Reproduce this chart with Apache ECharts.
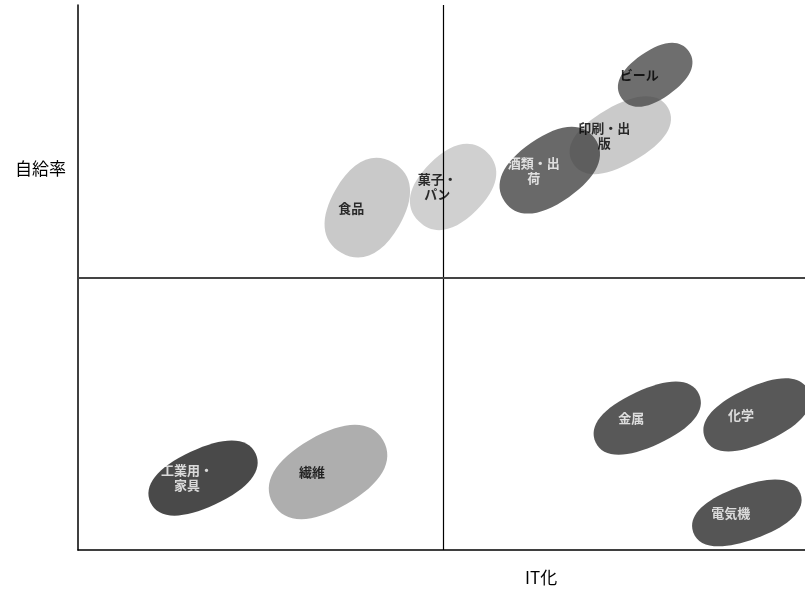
<!DOCTYPE html>
<html>
<head>
<meta charset="utf-8">
<script src="https://cdn.jsdelivr.net/npm/echarts@6/dist/echarts.min.js"></script>
<style>
  html, body { margin: 0; padding: 0; background: #fff; }
  #chart { width: 805px; height: 597px; }
</style>
</head>
<body>
<div id="chart"></div>
<script>
// industries plotted on the IT-adoption / self-sufficiency quadrant
// (listed back to front, so later ones sit on top)
const industries = ['食品', '菓子・\nパン', '印刷・出\n版', 'ビール', '酒類・出\n荷', '工業用・\n家具', '繊維', '金属', '化学', '電気機'];
const itValues = [39.8, 51.6, 74.6, 79.4, 64.9, 17.2, 34.4, 78.3, 93.4, 92.0];
const selfValues = [62.8, 66.6, 76.1, 87.2, 69.7, 13.2, 14.3, 24.2, 24.8, 6.8];

// look of each blob (kept apart from the values)
const blobSizes = [[104, 73], [97, 66], [110, 58], [82, 48], [110, 66], [116, 58], [127, 74], [114, 56], [114, 56], [114, 54]];
const blobTilts = [60, 45, 30, 35, 35, 25, 30, 25, 25, 20];
const blobColors = ['#bcbcbc', '#c4c4c4', '#bdbdbd', '#4a4a4a', '#444444', '#1c1c1c', '#9a9a9a', '#2e2e2e', '#2e2e2e', '#2a2a2a'];
const labelColors = ['#000', '#000', '#000', '#000', '#fff', '#fff', '#000', '#fff', '#fff', '#fff'];

// rounded lozenge, a little fuller than an ellipse
const blob = 'path://M100,25C100,41 82,50 50,50C18,50 0,41 0,25C0,9 18,0 50,0C82,0 100,9 100,25Z';

const points = industries.map((name, i) => ({
    name: name,
    value: [itValues[i], selfValues[i]],
    symbolSize: blobSizes[i],
    symbolRotate: blobTilts[i],
    itemStyle: { color: blobColors[i] },
    label: { color: labelColors[i] }
}));

const chart = echarts.init(document.getElementById('chart'));

chart.setOption({
    animation: false,
    grid: { left: 78, right: 0, top: 5, bottom: 47 },
    xAxis: {
        type: 'value', min: 0, max: 100,
        axisLine: { show: true, lineStyle: { color: '#000', width: 1.5 } },
        axisTick: { show: false },
        axisLabel: { show: false },
        splitLine: { show: false }
    },
    yAxis: {
        type: 'value', min: 0, max: 100,
        axisLine: { show: true, lineStyle: { color: '#000', width: 1.5 } },
        axisTick: { show: false },
        axisLabel: { show: false },
        splitLine: { show: false }
    },
    graphic: [
        {
            type: 'text', left: 15, top: 160,
            style: { text: '自給率', font: '17px "Noto Sans CJK JP"', fill: '#000' }
        },
        {
            type: 'text', left: 525, top: 569,
            style: { text: 'IT化', font: '17px "Noto Sans CJK JP"', fill: '#000' }
        }
    ],
    series: [
        {
            // quadrant dividers, kept behind the blobs
            type: 'line',
            data: [],
            z: 1,
            markLine: {
                silent: true,
                symbol: 'none',
                label: { show: false },
                data: [
                    { xAxis: 50.3, lineStyle: { color: '#000', width: 1.2, type: 'solid' } },
                    { yAxis: 50, lineStyle: { color: '#444', width: 2, type: 'solid' } }
                ]
            }
        },
        {
            type: 'scatter',
            z: 3,
            symbol: blob,
            data: points,
            label: {
                show: true,
                position: 'inside',
                offset: [-16, 0],
                formatter: '{b}',
                fontFamily: 'Noto Sans CJK JP',
                fontWeight: 'bold',
                fontSize: 13,
                lineHeight: 15
            }
        }
    ]
});
</script>
</body>
</html>
